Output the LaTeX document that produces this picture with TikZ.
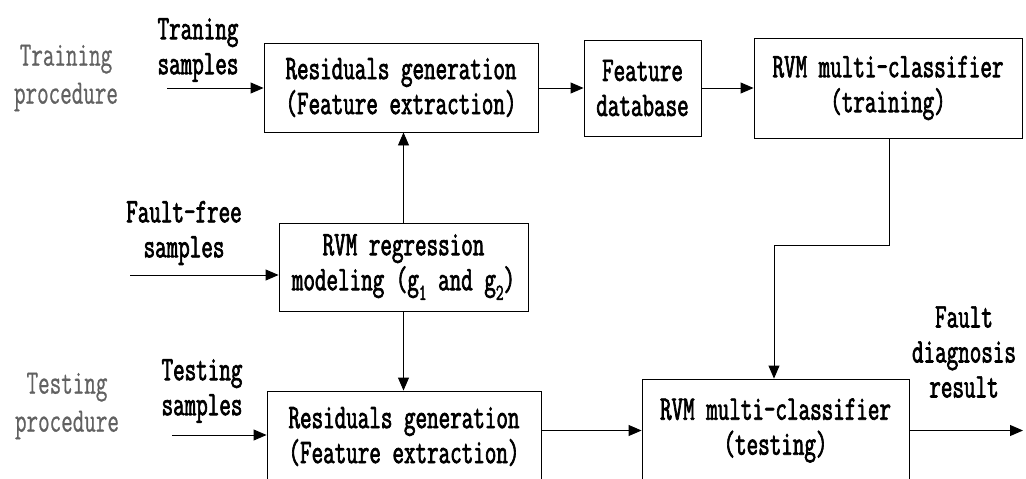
\documentclass[tikz,border=0pt]{standalone}
\usepackage{fontspec}
\usetikzlibrary{arrows.meta}
\newfontfamily\boxfont{Latin Modern Mono}[FakeStretch=0.65,FakeBold=2]
\newfontfamily\lightfont{Latin Modern Mono}[FakeStretch=0.65,FakeBold=0.6]
\newcommand{\sub}[1]{\raisebox{-0.28em}{\fontsize{23}{23}\selectfont #1}}
\tikzset{
  txt/.style={font=\boxfont\fontsize{34.5}{35}\selectfont, align=center, inner sep=0pt},
  phase/.style={font=\lightfont\fontsize{34.5}{38}\selectfont, align=center, inner sep=0pt, text=black!62},
  box/.style={txt, draw, line width=0.9pt},
  flow/.style={line width=0.9pt, -{Triangle[length=13pt,width=11pt]}},
  link/.style={line width=0.9pt}
}
\begin{document}
\begin{tikzpicture}[x=1pt,y=-1pt]
\useasboundingbox (0,0) rectangle (1026,479);
\clip (0,0) rectangle (1026,479);

% phase labels
\node[phase] (trainphase) at (66,78) {Training\\procedure};
\node[phase] (testphase) at (67,406) {Testing\\procedure};

% input / output labels
\node[txt] (trainlbl) at (198,50) {Traning\\samples};
\node[txt] (freelbl) at (184,233) {Fault-free\\samples};
\node[txt] (testlbl) at (202,391) {Testing\\samples};
\node[txt] (outlbl) at (964,352) {Fault\\diagnosis\\result};

% processing blocks
\node[box, minimum width=274pt, minimum height=89pt] (res1) at (401,87.5)
  {Residuals generation\\(Feature extraction)};
\node[box, minimum width=117pt, minimum height=96pt] (fdb) at (642.5,88)
  {Feature\\database};
\node[box, minimum width=268pt, minimum height=100pt] (rvmtr) at (888,88)
  {RVM multi-classifier\\(training)};
\node[box, minimum width=249pt, minimum height=88pt] (reg) at (403.5,267)
  {RVM regression\\modeling (g\sub{1} and g\sub{2})};
\node[box, minimum width=274pt, minimum height=91pt] (res2) at (404,436.5)
  {Residuals generation\\(Feature extraction)};
\node[box, minimum width=267pt, minimum height=103pt] (rvmte) at (775.5,430.5)
  {RVM multi-classifier\\(testing)};

% free ends of the input and output arrows
\coordinate (trainin) at (167,88);
\coordinate (freein) at (130,275);
\coordinate (testin) at (172,435);
\coordinate (result) at (1023,430.5);
\coordinate (bendA) at (889,245);
\coordinate (bendB) at (774,245);

% connectors
\draw[flow] (trainin) -- (trainin -| res1.west);
\draw[flow] (res1.east |- fdb.west) -- (fdb.west);
\draw[flow] (fdb.east) -- (rvmtr.west);
\draw[flow] (reg.north) -- (reg.north |- res1.south);
\draw[flow] (freein) -- (freein -| reg.west);
\draw[flow] (reg.south) -- (reg.south |- res2.north);
\draw[flow] (testin) -- (testin -| res2.west);
\draw[flow] (res2.east |- rvmte.west) -- (rvmte.west);
\draw[flow] (rvmte.east) -- (result);
\draw[link] (bendA |- rvmtr.south) -- (bendA) -- (bendB);
\draw[flow] (bendB) -- (bendB |- rvmte.north);
\end{tikzpicture}
\end{document}
